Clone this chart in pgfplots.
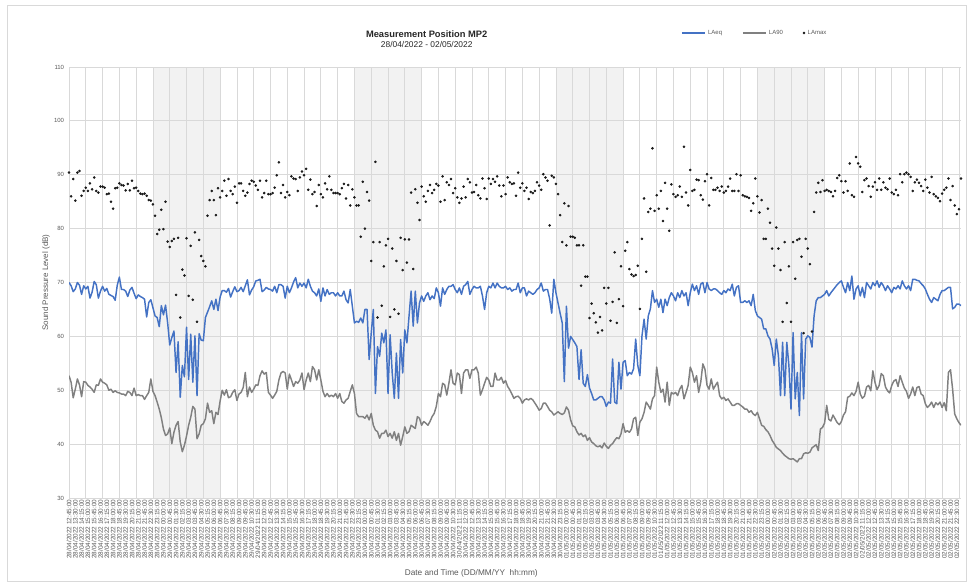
\documentclass[border=0pt]{standalone}
\usepackage{pgfplots}
\pgfplotsset{compat=1.18}
\usepackage{fontspec}
\setmainfont{Liberation Sans}
\definecolor{laeqblue}{RGB}{68,114,196}
\definecolor{la90gray}{RGB}{128,128,128}
\definecolor{labelgray}{RGB}{89,89,89}
\definecolor{gridgray}{RGB}{217,217,217}
\definecolor{shadegray}{RGB}{242,242,242}
\begin{document}
\begin{tikzpicture}
\begin{axis}[
  set layers,
  at={(0pt,0pt)}, anchor=south west,
  scale only axis, width=669pt, height=323.25pt,
  xmin=0, xmax=425, ymin=30, ymax=110,
  ytick={30,40,...,110},
  /pgf/number format/assume math mode=true,
  xtick={0,3,...,423},
  minor xtick={0,8,...,424},
  xminorgrids=true, xmajorgrids=false, ymajorgrids=true,
  grid style={gridgray, line width=0.6pt},
  minor grid style={gridgray, line width=0.6pt},
  axis line style={draw=none},
  tick style={draw=none},
  xticklabel style={rotate=90, anchor=east, font=\fontsize{4.8}{5.5}\selectfont, text=labelgray, inner sep=1.2pt},
  yticklabel style={font=\fontsize{4.5}{5}\selectfont, text=labelgray, inner sep=0pt, xshift=-3.5pt},
  xticklabels={
28/04/2022 12:45:00,28/04/2022 13:30:00,28/04/2022 14:15:00,28/04/2022 15:00:00,28/04/2022 15:45:00,28/04/2022 16:30:00,28/04/2022 17:15:00,28/04/2022 18:00:00,28/04/2022 18:45:00,28/04/2022 19:30:00,28/04/2022 20:15:00,28/04/2022 21:00:00,28/04/2022 21:45:00,28/04/2022 22:30:00,28/04/2022 23:15:00,
29/04/2022 00:00:00,29/04/2022 00:45:00,29/04/2022 01:30:00,29/04/2022 02:15:00,29/04/2022 03:00:00,29/04/2022 03:45:00,29/04/2022 04:30:00,29/04/2022 05:15:00,29/04/2022 06:00:00,29/04/2022 06:45:00,29/04/2022 07:30:00,29/04/2022 08:15:00,29/04/2022 09:00:00,29/04/2022 09:45:00,29/04/2022 10:30:00,29/04/2022 11:15:00,29/04/2022 12:00:00,29/04/2022 12:45:00,29/04/2022 13:30:00,29/04/2022 14:15:00,29/04/2022 15:00:00,29/04/2022 15:45:00,29/04/2022 16:30:00,29/04/2022 17:15:00,29/04/2022 18:00:00,29/04/2022 18:45:00,29/04/2022 19:30:00,29/04/2022 20:15:00,29/04/2022 21:00:00,29/04/2022 21:45:00,29/04/2022 22:30:00,29/04/2022 23:15:00,
30/04/2022 00:00:00,30/04/2022 00:45:00,30/04/2022 01:30:00,30/04/2022 02:15:00,30/04/2022 03:00:00,30/04/2022 03:45:00,30/04/2022 04:30:00,30/04/2022 05:15:00,30/04/2022 06:00:00,30/04/2022 06:45:00,30/04/2022 07:30:00,30/04/2022 08:15:00,30/04/2022 09:00:00,30/04/2022 09:45:00,30/04/2022 10:30:00,30/04/2022 11:15:00,30/04/2022 12:00:00,30/04/2022 12:45:00,30/04/2022 13:30:00,30/04/2022 14:15:00,30/04/2022 15:00:00,30/04/2022 15:45:00,30/04/2022 16:30:00,30/04/2022 17:15:00,30/04/2022 18:00:00,30/04/2022 18:45:00,30/04/2022 19:30:00,30/04/2022 20:15:00,30/04/2022 21:00:00,30/04/2022 21:45:00,30/04/2022 22:30:00,30/04/2022 23:15:00,
01/05/2022 00:00:00,01/05/2022 00:45:00,01/05/2022 01:30:00,01/05/2022 02:15:00,01/05/2022 03:00:00,01/05/2022 03:45:00,01/05/2022 04:30:00,01/05/2022 05:15:00,01/05/2022 06:00:00,01/05/2022 06:45:00,01/05/2022 07:30:00,01/05/2022 08:15:00,01/05/2022 09:00:00,01/05/2022 09:45:00,01/05/2022 10:30:00,01/05/2022 11:15:00,01/05/2022 12:00:00,01/05/2022 12:45:00,01/05/2022 13:30:00,01/05/2022 14:15:00,01/05/2022 15:00:00,01/05/2022 15:45:00,01/05/2022 16:30:00,01/05/2022 17:15:00,01/05/2022 18:00:00,01/05/2022 18:45:00,01/05/2022 19:30:00,01/05/2022 20:15:00,01/05/2022 21:00:00,01/05/2022 21:45:00,01/05/2022 22:30:00,01/05/2022 23:15:00,
02/05/2022 00:00:00,02/05/2022 00:45:00,02/05/2022 01:30:00,02/05/2022 02:15:00,02/05/2022 03:00:00,02/05/2022 03:45:00,02/05/2022 04:30:00,02/05/2022 05:15:00,02/05/2022 06:00:00,02/05/2022 06:45:00,02/05/2022 07:30:00,02/05/2022 08:15:00,02/05/2022 09:00:00,02/05/2022 09:45:00,02/05/2022 10:30:00,02/05/2022 11:15:00,02/05/2022 12:00:00,02/05/2022 12:45:00,02/05/2022 13:30:00,02/05/2022 14:15:00,02/05/2022 15:00:00,02/05/2022 15:45:00,02/05/2022 16:30:00,02/05/2022 17:15:00,02/05/2022 18:00:00,02/05/2022 18:45:00,02/05/2022 19:30:00,02/05/2022 20:15:00,02/05/2022 21:00:00,02/05/2022 21:45:00,02/05/2022 22:30:00},
  xlabel={Date and Time (DD/MM/YY\ \ hh:mm)},
  xlabel style={at={(axis description cs:0.451,-0.174)}, anchor=center, font=\fontsize{6.2}{7}\selectfont, text=labelgray},
  ylabel={Sound Pressure Level (dB)},
  ylabel style={at={(axis description cs:-0.0258,0.5)}, anchor=center, font=\fontsize{6}{7}\selectfont, text=labelgray},
  title={{\bfseries\fontsize{7}{8.2}\selectfont Measurement Position MP2}\\{\fontsize{6.3}{8.2}\selectfont 28/04/2022 - 02/05/2022}},
  title style={at={(axis description cs:0.401,1.046)}, anchor=center, align=center, text=black!85, font=\fontsize{6.3}{8.2}\selectfont},
  legend style={at={(axis description cs:0.686,1.079)}, anchor=west, draw=none, fill=none, inner sep=0pt,
    legend columns=3, font=\fontsize{4.5}{5}\selectfont, text=labelgray,
    /tikz/every even column/.append style={column sep=13pt}},
  legend cell align=left,
]
% night shading
\addplot[fill=shadegray, draw=none, forget plot, on layer=axis background] coordinates {(40,30)(40,110)(72,110)(72,30)};
\addplot[fill=shadegray, draw=none, forget plot, on layer=axis background] coordinates {(136,30)(136,110)(168,110)(168,30)};
\addplot[fill=shadegray, draw=none, forget plot, on layer=axis background] coordinates {(232,30)(232,110)(264,110)(264,30)};
\addplot[fill=shadegray, draw=none, forget plot, on layer=axis background] coordinates {(328,30)(328,110)(360,110)(360,30)};
% LAeq
\addplot[laeqblue, line width=1.1pt, line join=round, mark=none] coordinates {
(0,70.0)(1,69.4)(2,68.3)(3,68.8)(4,70.0)(5,69.5)(6,67.8)(7,69.4)
(8,68.8)(9,69.3)(10,67.1)(11,68.2)(12,70.2)(13,69.6)(14,67.1)(15,68.4)
(16,69.3)(17,68.4)(18,68.9)(19,67.8)(20,67.6)(21,67.4)(22,66.7)(23,69.5)
(24,71.0)(25,68.7)(26,68.7)(27,68.4)(28,67.4)(29,68.6)(30,69.1)(31,68.0)
(32,67.0)(33,67.7)(34,67.4)(35,67.2)(36,66.9)(37,63.6)(38,66.3)(39,66.8)
(40,65.3)(41,63.8)(42,63.5)(43,61.8)(44,65.7)(45,64.0)(46,65.8)(47,62.5)
(48,58.4)(49,59.8)(50,61.0)(51,53.3)(52,59.0)(53,48.7)(54,54.6)(55,52.5)
(56,61.7)(57,52.0)(58,60.4)(59,51.5)(60,60.1)(61,49.0)(62,60.5)(63,59.3)
(64,59.2)(65,63.5)(66,64.5)(67,65.5)(68,66.6)(69,65.0)(70,66.9)(71,64.8)
(72,67.3)(73,68.5)(74,68.5)(75,68.2)(76,68.9)(77,67.3)(78,68.3)(79,69.2)
(80,68.3)(81,68.5)(82,69.1)(83,68.3)(84,69.4)(85,70.5)(86,67.7)(87,68.6)
(88,69.2)(89,70.3)(90,70.4)(91,70.6)(92,68.3)(93,68.6)(94,69.1)(95,68.8)
(96,68.7)(97,68.4)(98,69.3)(99,68.1)(100,69.6)(101,69.6)(102,69.3)(103,67.1)
(104,69.3)(105,68.1)(106,69.0)(107,70.1)(108,70.9)(109,69.0)(110,69.9)(111,69.3)
(112,69.9)(113,69.0)(114,70.6)(115,69.3)(116,68.4)(117,68.1)(118,67.5)(119,68.8)
(120,66.5)(121,69.0)(122,67.5)(123,68.7)(124,67.8)(125,68.1)(126,68.1)(127,67.5)
(128,68.1)(129,67.5)(130,67.5)(131,68.4)(132,66.8)(133,66.2)(134,68.7)(135,65.6)
(136,62.5)(137,62.8)(138,62.6)(139,63.4)(140,62.5)(141,65.0)(142,65.0)(143,55.7)
(144,60.6)(145,65.0)(146,49.4)(147,58.1)(148,56.3)(149,60.6)(150,58.8)(151,61.2)
(152,49.4)(153,60.3)(154,53.2)(155,48.5)(156,56.9)(157,48.5)(158,59.4)(159,53.2)
(160,61.2)(161,58.8)(162,63.7)(163,68.4)(164,61.9)(165,68.4)(166,62.5)(167,66.2)
(168,67.5)(169,66.5)(170,67.5)(171,68.1)(172,66.8)(173,67.5)(174,67.0)(175,69.0)
(176,68.1)(177,65.6)(178,69.0)(179,67.8)(180,68.7)(181,69.3)(182,69.3)(183,69.6)
(184,68.7)(185,68.1)(186,69.0)(187,67.8)(188,69.3)(189,69.6)(190,70.2)(191,67.8)
(192,68.7)(193,69.3)(194,69.0)(195,69.0)(196,69.3)(197,67.5)(198,65.0)(199,68.1)
(200,69.3)(201,69.0)(202,69.9)(203,69.0)(204,69.9)(205,69.3)(206,69.0)(207,69.0)
(208,69.3)(209,68.7)(210,69.0)(211,68.4)(212,68.7)(213,68.7)(214,69.9)(215,68.1)
(216,69.0)(217,69.0)(218,67.5)(219,68.4)(220,68.1)(221,67.8)(222,68.1)(223,68.7)
(224,69.0)(225,69.9)(226,68.4)(227,68.7)(228,68.7)(229,67.0)(230,64.3)(231,70.6)
(232,68.1)(233,66.2)(234,64.3)(235,62.5)(236,51.6)(237,65.6)(238,57.8)(239,60.0)
(240,59.4)(241,58.8)(242,58.1)(243,52.0)(244,57.5)(245,51.3)(246,50.7)(247,52.9)
(248,50.4)(249,49.4)(250,48.2)(251,48.2)(252,48.5)(253,48.8)(254,48.8)(255,48.2)
(256,47.0)(257,47.8)(258,47.6)(259,55.8)(260,47.8)(261,47.5)(262,55.2)(263,50.2)
(264,55.2)(265,55.5)(266,52.7)(267,53.3)(268,53.0)(269,54.0)(270,59.5)(271,54.6)
(272,52.7)(273,60.1)(274,63.2)(275,59.5)(276,63.8)(277,65.1)(278,68.5)(279,66.3)
(280,66.9)(281,65.4)(282,66.9)(283,64.4)(284,66.9)(285,65.7)(286,67.2)(287,68.1)
(288,67.5)(289,66.6)(290,68.1)(291,67.2)(292,68.5)(293,67.5)(294,68.1)(295,65.7)
(296,68.1)(297,69.7)(298,68.5)(299,69.4)(300,67.8)(301,69.7)(302,70.0)(303,68.1)
(304,70.0)(305,68.8)(306,68.5)(307,68.8)(308,68.8)(309,68.5)(310,68.1)(311,67.8)
(312,68.5)(313,68.1)(314,68.8)(315,68.5)(316,69.7)(317,67.5)(318,69.1)(319,69.4)
(320,66.3)(321,66.3)(322,66.6)(323,66.3)(324,66.6)(325,65.7)(326,67.8)(327,64.8)
(328,63.8)(329,63.5)(330,63.2)(331,61.4)(332,61.4)(333,60.1)(334,59.5)(335,57.7)
(336,54.6)(337,59.5)(338,56.4)(339,49.0)(340,58.9)(341,49.0)(342,58.9)(343,54.6)
(344,46.5)(345,60.7)(346,48.4)(347,53.3)(348,45.3)(349,60.7)(350,48.4)(351,59.5)
(352,60.1)(353,59.8)(354,58.0)(355,63.8)(356,66.6)(357,67.2)(358,67.2)(359,67.5)
(360,67.8)(361,68.5)(362,67.5)(363,68.1)(364,68.6)(365,69.1)(366,69.6)(367,70.0)
(368,70.3)(369,69.1)(370,68.1)(371,70.0)(372,68.5)(373,71.2)(374,66.9)(375,68.8)
(376,69.4)(377,67.5)(378,69.1)(379,67.2)(380,70.0)(381,69.4)(382,68.8)(383,70.0)
(384,69.4)(385,70.3)(386,69.1)(387,70.0)(388,69.4)(389,68.5)(390,69.4)(391,68.8)
(392,68.1)(393,69.1)(394,68.8)(395,69.4)(396,68.8)(397,70.3)(398,69.4)(399,68.8)
(400,69.4)(401,68.5)(402,70.6)(403,70.6)(404,70.4)(405,70.3)(406,69.8)(407,69.4)
(408,68.8)(409,67.8)(410,66.9)(411,66.3)(412,67.2)(413,66.9)(414,66.6)(415,67.8)
(416,68.5)(417,68.5)(418,68.8)(419,69.1)(420,69.1)(421,65.1)(422,65.4)(423,66.0)
(424,66.0)(425,65.7)};
\addlegendentry{LAeq}
% LA90
\addplot[la90gray, line width=1.1pt, line join=round, mark=none] coordinates {
(0,52.7)(1,51.5)(2,48.6)(3,50.2)(4,52.1)(5,51.0)(6,48.8)(7,51.6)
(8,51.5)(9,50.9)(10,50.6)(11,50.2)(12,49.6)(13,51.0)(14,50.9)(15,52.1)
(16,51.5)(17,51.3)(18,51.0)(19,50.0)(20,50.2)(21,49.6)(22,49.9)(23,49.6)
(24,49.5)(25,49.3)(26,49.3)(27,49.0)(28,49.8)(29,49.6)(30,49.0)(31,50.4)
(32,49.0)(33,49.2)(34,49.0)(35,49.0)(36,48.3)(37,49.0)(38,49.6)(39,52.1)
(40,49.8)(41,49.0)(42,47.8)(43,46.5)(44,44.9)(45,42.8)(46,41.6)(47,41.9)
(48,43.0)(49,40.1)(50,42.2)(51,43.5)(52,44.2)(53,40.4)(54,38.6)(55,39.8)
(56,41.5)(57,43.5)(58,45.0)(59,47.0)(60,46.5)(61,41.0)(62,41.9)(63,43.5)
(64,43.8)(65,44.7)(66,47.6)(67,45.9)(68,46.2)(69,43.8)(70,45.9)(71,45.5)
(72,48.0)(73,50.0)(74,49.1)(75,50.1)(76,48.6)(77,48.8)(78,49.6)(79,50.1)
(80,48.1)(81,49.3)(82,49.6)(83,50.5)(84,53.3)(85,48.8)(86,50.6)(87,49.6)
(88,50.2)(89,51.0)(90,50.9)(91,52.7)(92,53.6)(93,53.0)(94,53.3)(95,49.6)
(96,49.1)(97,48.5)(98,49.1)(99,49.8)(100,51.9)(101,53.2)(102,53.5)(103,53.2)
(104,50.2)(105,53.0)(106,51.9)(107,50.7)(108,51.6)(109,51.3)(110,51.9)(111,53.2)
(112,50.1)(113,51.9)(114,53.2)(115,51.6)(116,54.4)(117,53.8)(118,51.9)(119,53.8)
(120,51.9)(121,49.8)(122,48.8)(123,49.4)(124,48.8)(125,49.1)(126,48.8)(127,49.4)
(128,48.5)(129,49.4)(130,47.9)(131,47.6)(132,48.2)(133,48.5)(134,49.8)(135,51.0)
(136,49.4)(137,45.7)(138,45.1)(139,45.1)(140,45.1)(141,44.8)(142,45.4)(143,44.5)
(144,45.7)(145,43.5)(146,42.6)(147,42.3)(148,41.1)(149,42.0)(150,42.0)(151,42.6)
(152,41.4)(153,42.0)(154,41.1)(155,42.3)(156,40.7)(157,42.0)(158,39.8)(159,41.4)
(160,43.2)(161,42.0)(162,42.3)(163,43.5)(164,43.2)(165,42.9)(166,45.1)(167,44.8)
(168,43.5)(169,44.2)(170,43.9)(171,43.5)(172,44.2)(173,45.1)(174,45.7)(175,47.0)
(176,49.4)(177,48.8)(178,51.3)(179,51.0)(180,49.1)(181,51.3)(182,53.8)(183,51.3)
(184,51.0)(185,53.2)(186,52.9)(187,49.4)(188,53.2)(189,53.8)(190,53.8)(191,52.2)
(192,53.8)(193,53.8)(194,54.3)(195,53.2)(196,49.1)(197,50.1)(198,51.3)(199,52.4)
(200,51.9)(201,50.7)(202,50.7)(203,53.2)(204,51.9)(205,51.9)(206,52.4)(207,51.3)
(208,51.8)(209,50.7)(210,50.1)(211,49.3)(212,48.5)(213,48.8)(214,48.9)(215,48.5)
(216,47.6)(217,48.2)(218,48.4)(219,48.2)(220,48.5)(221,48.2)(222,47.6)(223,47.0)
(224,46.3)(225,46.6)(226,47.6)(227,47.6)(228,47.0)(229,46.3)(230,46.0)(231,45.4)
(232,45.7)(233,46.0)(234,45.7)(235,45.5)(236,45.8)(237,46.9)(238,46.3)(239,44.5)
(240,43.4)(241,43.2)(242,42.3)(243,41.7)(244,42.0)(245,41.4)(246,41.7)(247,40.7)
(248,41.2)(249,40.4)(250,40.1)(251,39.7)(252,39.5)(253,39.7)(254,39.3)(255,40.2)
(256,39.6)(257,39.2)(258,39.8)(259,40.1)(260,40.7)(261,41.2)(262,41.0)(263,41.9)
(264,43.8)(265,42.2)(266,42.5)(267,42.2)(268,42.8)(269,44.7)(270,45.0)(271,41.6)
(272,44.1)(273,44.7)(274,45.9)(275,47.8)(276,47.2)(277,46.5)(278,48.4)(279,49.0)
(280,54.3)(281,51.5)(282,49.6)(283,50.2)(284,47.8)(285,51.5)(286,47.2)(287,49.6)
(288,49.3)(289,49.6)(290,49.0)(291,50.2)(292,50.9)(293,48.4)(294,49.6)(295,50.9)
(296,54.3)(297,53.3)(298,51.5)(299,52.7)(300,49.6)(301,51.5)(302,54.9)(303,53.9)
(304,50.9)(305,50.2)(306,52.1)(307,50.2)(308,50.9)(309,51.5)(310,49.0)(311,48.4)
(312,48.7)(313,48.1)(314,48.4)(315,47.8)(316,47.2)(317,47.2)(318,47.5)(319,47.5)
(320,47.2)(321,46.9)(322,46.5)(323,46.5)(324,45.9)(325,46.2)(326,45.6)(327,45.3)
(328,45.9)(329,44.7)(330,43.5)(331,43.3)(332,42.7)(333,42.3)(334,41.6)(335,40.7)
(336,40.1)(337,39.4)(338,39.1)(339,38.8)(340,38.3)(341,37.9)(342,37.6)(343,37.3)
(344,37.2)(345,37.3)(346,37.0)(347,36.7)(348,37.3)(349,37.3)(350,38.2)(351,38.4)
(352,38.3)(353,38.5)(354,39.3)(355,39.6)(356,39.9)(357,38.8)(358,42.8)(359,43.1)
(360,43.9)(361,47.2)(362,44.6)(363,44.3)(364,45.4)(365,44.7)(366,44.0)(367,43.6)
(368,44.2)(369,45.4)(370,46.0)(371,48.7)(372,48.9)(373,49.5)(374,49.0)(375,49.8)
(376,51.5)(377,49.3)(378,48.5)(379,48.9)(380,50.6)(381,50.9)(382,49.9)(383,53.6)
(384,51.5)(385,50.1)(386,50.9)(387,53.1)(388,52.7)(389,50.6)(390,49.9)(391,49.5)
(392,50.9)(393,51.7)(394,52.0)(395,50.7)(396,52.7)(397,51.5)(398,50.4)(399,49.8)
(400,48.5)(401,49.3)(402,50.6)(403,49.0)(404,50.5)(405,50.7)(406,49.3)(407,49.0)
(408,47.5)(409,46.8)(410,47.2)(411,47.8)(412,46.8)(413,47.7)(414,47.3)(415,47.8)
(416,46.8)(417,47.7)(418,46.2)(419,53.3)(420,53.8)(421,50.2)(422,45.6)(423,44.7)
(424,44.0)(425,43.5)};
\addlegendentry{LA90}
% LAmax
\addplot[only marks, mark=*, mark size=0.75pt, black!90] coordinates {
(0,90.4)(1,86.0)(2,89.2)(3,85.2)(4,90.4)(5,90.7)(6,86.1)(7,87.0)
(8,87.6)(9,87.0)(10,88.4)(11,87.3)(12,89.5)(13,87.0)(14,86.7)(15,87.8)
(16,87.8)(17,87.6)(18,86.4)(19,86.5)(20,85.0)(21,83.7)(22,87.5)(23,87.6)
(24,88.4)(25,88.1)(26,88.0)(27,87.1)(28,88.3)(29,87.1)(30,88.9)(31,87.5)
(32,87.6)(33,87.0)(34,86.5)(35,86.4)(36,86.5)(37,86.1)(38,85.3)(39,85.2)
(40,84.5)(41,82.4)(42,79.0)(43,79.8)(44,83.5)(45,79.9)(46,85.0)(47,77.6)
(48,76.6)(49,77.7)(50,78.1)(51,67.7)(52,78.3)(53,63.5)(54,72.4)(55,71.3)
(56,78.2)(57,67.5)(58,76.8)(59,66.8)(60,79.3)(61,62.7)(62,77.9)(63,74.9)
(64,74.0)(65,73.0)(66,82.4)(67,85.3)(68,87.0)(69,85.3)(70,82.5)(71,87.5)
(72,85.8)(73,87.0)(74,88.9)(75,86.1)(76,89.2)(77,87.0)(78,86.4)(79,87.8)
(80,84.8)(81,88.4)(82,88.4)(83,87.0)(84,86.1)(85,86.7)(86,88.3)(87,88.9)
(88,88.7)(89,88.0)(90,87.2)(91,88.9)(92,85.8)(93,86.6)(94,88.9)(95,86.4)
(96,86.4)(97,86.6)(98,87.6)(99,89.9)(100,92.3)(101,86.6)(102,88.1)(103,85.8)
(104,86.8)(105,86.2)(106,89.7)(107,89.3)(108,89.2)(109,87.0)(110,89.5)(111,90.6)
(112,89.9)(113,91.1)(114,87.2)(115,89.1)(116,86.4)(117,86.8)(118,84.2)(119,88.1)
(120,86.4)(121,85.8)(122,88.4)(123,87.3)(124,89.7)(125,87.2)(126,86.6)(127,86.6)
(128,86.6)(129,86.4)(130,87.5)(131,88.3)(132,85.6)(133,88.1)(134,84.3)(135,87.3)
(136,85.8)(137,84.3)(138,84.3)(139,78.5)(140,88.7)(141,80.0)(142,86.8)(143,85.2)
(144,74.0)(145,77.5)(146,92.4)(147,63.5)(148,77.5)(149,65.7)(150,73.0)(151,76.9)
(152,78.1)(153,63.6)(154,76.3)(155,65.0)(156,74.0)(157,64.2)(158,78.3)(159,72.3)
(160,78.0)(161,73.7)(162,78.0)(163,86.7)(164,72.5)(165,87.3)(166,84.8)(167,81.6)
(168,87.8)(169,86.0)(170,85.0)(171,87.0)(172,88.1)(173,86.6)(174,87.2)(175,88.3)
(176,88.0)(177,85.0)(178,89.7)(179,85.3)(180,88.6)(181,88.1)(182,89.2)(183,86.6)
(184,87.5)(185,85.8)(186,84.8)(187,85.6)(188,87.8)(189,85.8)(190,89.2)(191,88.6)
(192,86.7)(193,86.8)(194,88.1)(195,86.2)(196,85.6)(197,89.3)(198,87.5)(199,85.5)
(200,89.3)(201,88.3)(202,89.2)(203,88.7)(204,89.7)(205,88.0)(206,86.0)(207,88.0)
(208,86.4)(209,89.5)(210,88.6)(211,88.3)(212,88.4)(213,86.1)(214,90.4)(215,87.6)
(216,88.4)(217,87.0)(218,87.6)(219,85.5)(220,86.8)(221,86.6)(222,87.0)(223,88.6)
(224,88.0)(225,87.2)(226,90.1)(227,89.5)(228,88.9)(229,80.6)(230,89.8)(231,89.5)
(232,88.3)(233,86.4)(234,82.5)(235,77.5)(236,84.7)(237,76.9)(238,84.2)(239,78.5)
(240,78.5)(241,78.3)(242,76.9)(243,76.9)(244,69.4)(245,76.9)(246,71.1)(247,71.1)
(248,63.4)(249,66.1)(250,64.3)(251,62.6)(252,60.7)(253,63.6)(254,61.1)(255,69.0)
(256,66.1)(257,69.0)(258,62.9)(259,66.4)(260,75.6)(261,62.5)(262,66.9)(263,73.0)
(264,65.6)(265,75.9)(266,77.5)(267,72.5)(268,71.5)(269,71.2)(270,71.4)(271,73.1)
(272,65.1)(273,78.1)(274,85.6)(275,72.0)(276,83.1)(277,83.7)(278,94.9)(279,83.3)
(280,86.2)(281,83.7)(282,87.0)(283,81.4)(284,88.5)(285,83.7)(286,79.6)(287,88.2)
(288,86.4)(289,85.9)(290,86.2)(291,87.8)(292,85.9)(293,95.2)(294,86.7)(295,84.3)
(296,90.9)(297,87.0)(298,87.2)(299,89.1)(300,89.0)(301,86.2)(302,85.4)(303,88.8)
(304,90.1)(305,84.3)(306,89.4)(307,87.2)(308,87.2)(309,87.6)(310,87.0)(311,87.8)
(312,86.7)(313,87.0)(314,87.8)(315,89.3)(316,87.0)(317,87.0)(318,90.1)(319,87.0)
(320,89.9)(321,86.2)(322,86.0)(323,85.9)(324,85.7)(325,83.3)(326,84.7)(327,89.3)
(328,86.0)(329,83.0)(330,85.3)(331,78.1)(332,78.1)(333,83.7)(334,81.1)(335,76.3)
(336,73.1)(337,80.2)(338,76.3)(339,72.3)(340,62.7)(341,77.5)(342,66.2)(343,73.0)
(344,62.7)(345,77.5)(346,70.7)(347,77.9)(348,78.1)(349,74.8)(350,60.6)(351,78.1)
(352,76.3)(353,73.4)(354,60.9)(355,83.1)(356,86.7)(357,88.5)(358,86.8)(359,89.0)
(360,87.0)(361,87.2)(362,87.0)(363,86.8)(364,86.0)(365,87.0)(366,89.4)(367,89.9)
(368,88.8)(369,86.7)(370,88.8)(371,87.0)(372,92.1)(373,86.2)(374,85.9)(375,93.3)
(376,92.1)(377,91.5)(378,86.8)(379,89.0)(380,89.3)(381,87.9)(382,85.9)(383,87.8)
(384,88.6)(385,87.2)(386,89.3)(387,87.2)(388,88.6)(389,87.6)(390,87.3)(391,89.3)
(392,86.7)(393,86.4)(394,87.2)(395,86.2)(396,90.1)(397,88.6)(398,90.1)(399,90.4)
(400,90.1)(401,89.6)(402,87.0)(403,88.6)(404,89.1)(405,88.5)(406,87.9)(407,87.0)
(408,89.1)(409,87.6)(410,86.7)(411,89.6)(412,86.4)(413,86.0)(414,85.7)(415,85.1)
(416,86.5)(417,87.2)(418,87.6)(419,89.3)(420,85.3)(421,87.9)(422,84.3)(423,82.7)
(424,83.6)(425,89.3)};
\addlegendentry{LAmax}
\end{axis}
\draw[gridgray, line width=0.6pt] (-46.5pt,369.75pt) rectangle (672.75pt,-62.25pt);
\pgfresetboundingbox
\path[use as bounding box] (-51.75pt,-65.25pt) rectangle (675.75pt,373.5pt);
\end{tikzpicture}
\end{document}
